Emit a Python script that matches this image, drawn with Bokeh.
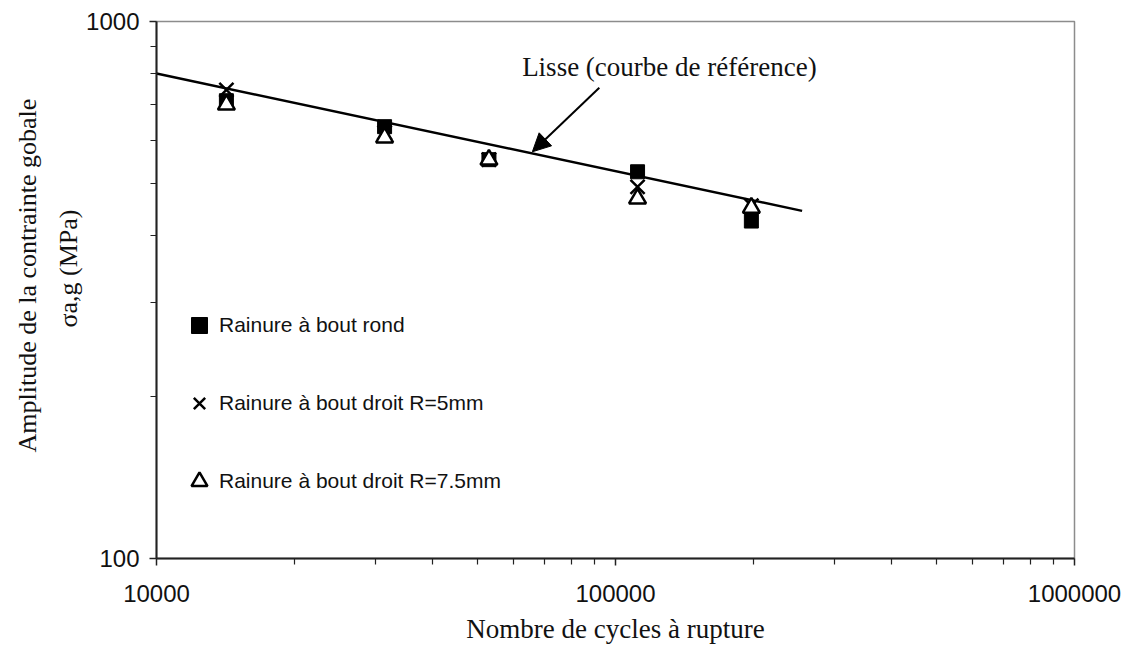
from bokeh.plotting import figure
from bokeh.models import (Range1d, FixedTicker, NumeralTickFormatter, Label, Arrow,
                          NormalHead, Legend, LegendItem, ColumnDataSource, Title)
from bokeh.embed import file_html
from bokeh.resources import INLINE

# ---- data ----
cycles = [14200, 31400, 53000, 111700, 197700]
stress_rond = [712, 637, 553, 525, 425]
stress_r5 = [746, 621, 553, 492, 454]
stress_r75 = [700, 608, 553, 468, 450]
ref_cycles = [10000, 255000]
ref_stress = [800, 444]

x_major = [10000, 100000, 1000000]
x_minor = [2e4, 3e4, 4e4, 5e4, 6e4, 7e4, 8e4, 9e4, 2e5, 3e5, 4e5, 5e5, 6e5, 7e5, 8e5, 9e5]
y_major = [100, 1000]
y_minor = [200, 300, 400, 500, 600, 700, 800, 900]

label_rond = "Rainure à bout rond"
label_r5 = "Rainure à bout droit R=5mm"
label_r75 = "Rainure à bout droit R=7.5mm"

SANS = "Liberation Sans"
SERIF = "Liberation Serif"

p = figure(x_axis_type="log", y_axis_type="log",
           x_range=Range1d(1e4, 1e6), y_range=Range1d(100, 1000),
           frame_width=918, frame_height=537,
           min_border_left=156, min_border_top=21, min_border_right=50, min_border_bottom=0,
           output_backend="svg", toolbar_location=None, background_fill_color="white")

p.xgrid.visible = False
p.ygrid.visible = False
p.outline_line_color = "#8c8c8c"
p.outline_line_width = 1.5

p.xaxis.ticker = FixedTicker(ticks=x_major, minor_ticks=x_minor)
p.yaxis.ticker = FixedTicker(ticks=y_major, minor_ticks=y_minor)
p.xaxis.formatter = NumeralTickFormatter(format="0")
p.yaxis.formatter = NumeralTickFormatter(format="0")

for ax in (p.xaxis, p.yaxis):
    ax.axis_line_color = "#222222"
    ax.axis_line_width = 2
    ax.major_tick_line_color = "#222222"
    ax.minor_tick_line_color = "#222222"
    ax.major_tick_line_width = 1.5
    ax.minor_tick_line_width = 1.2
    ax.major_tick_out = 7
    ax.major_tick_in = 0
    ax.minor_tick_out = 6
    ax.minor_tick_in = 0
    ax.major_label_text_font = SANS
    ax.major_label_text_font_size = "24px"
    ax.major_label_text_color = "#111111"

p.xaxis.major_label_standoff = 19
p.yaxis.major_label_standoff = 10
p.xaxis.axis_label = "Nombre de cycles à rupture"
p.xaxis.axis_label_text_font = SERIF
p.xaxis.axis_label_text_font_size = "27px"
p.xaxis.axis_label_text_font_style = "normal"
p.xaxis.axis_label_text_color = "#111111"
p.xaxis.axis_label_standoff = 9

# y-axis title: two lines placed as side titles (start measured from the frame bottom)
t2 = Title(text="σa,g (MPa)", align="left", offset=231, standoff=2,
           text_font=SERIF, text_font_size="26px", text_font_style="normal",
           text_color="#111111")
t1 = Title(text="Amplitude de la contrainte gobale", align="left", offset=106, standoff=18,
           text_font=SERIF, text_font_size="26px", text_font_style="normal",
           text_color="#111111")
p.add_layout(t2, "left")
p.add_layout(t1, "left")

# reference line
p.line(ref_cycles, ref_stress, line_color="black", line_width=2.5)

src = ColumnDataSource(dict(x=cycles, rond=stress_rond, r5=stress_r5, r75=stress_r75))
r_sq = p.scatter("x", "rond", source=src, marker="square", size=14,
                 fill_color="black", line_color="black", line_width=1)
r_x = p.scatter("x", "r5", source=src, marker="x", size=20,
                line_color="black", line_width=2.5)
r_tri = p.scatter("x", "r75", source=src, marker="triangle", size=17,
                  fill_color="white", line_color="black", line_width=2.5)

legend = Legend(items=[LegendItem(label=label_rond, renderers=[r_sq]),
                       LegendItem(label=label_r5, renderers=[r_x]),
                       LegendItem(label=label_r75, renderers=[r_tri])],
                location=(23, 55), orientation="vertical",
                glyph_width=40, glyph_height=44, spacing=34, label_standoff=0,
                padding=0, margin=0, border_line_color=None,
                background_fill_alpha=0, label_text_font=SANS,
                label_text_font_size="21px", label_text_color="#111111")
p.add_layout(legend, "center")

# annotation with arrow
p.add_layout(Label(x=62600, y=821, text="Lisse (courbe de référence)",
                   text_align="left", text_baseline="middle",
                   text_font=SERIF, text_font_size="27px", text_color="#111111"))
p.add_layout(Arrow(x_start=92200, y_start=753, x_end=65900, y_end=572,
                   line_color="black", line_width=2,
                   end=NormalHead(size=18, fill_color="black", line_color="black")))

open("out.html", "w").write(file_html(p, INLINE))
